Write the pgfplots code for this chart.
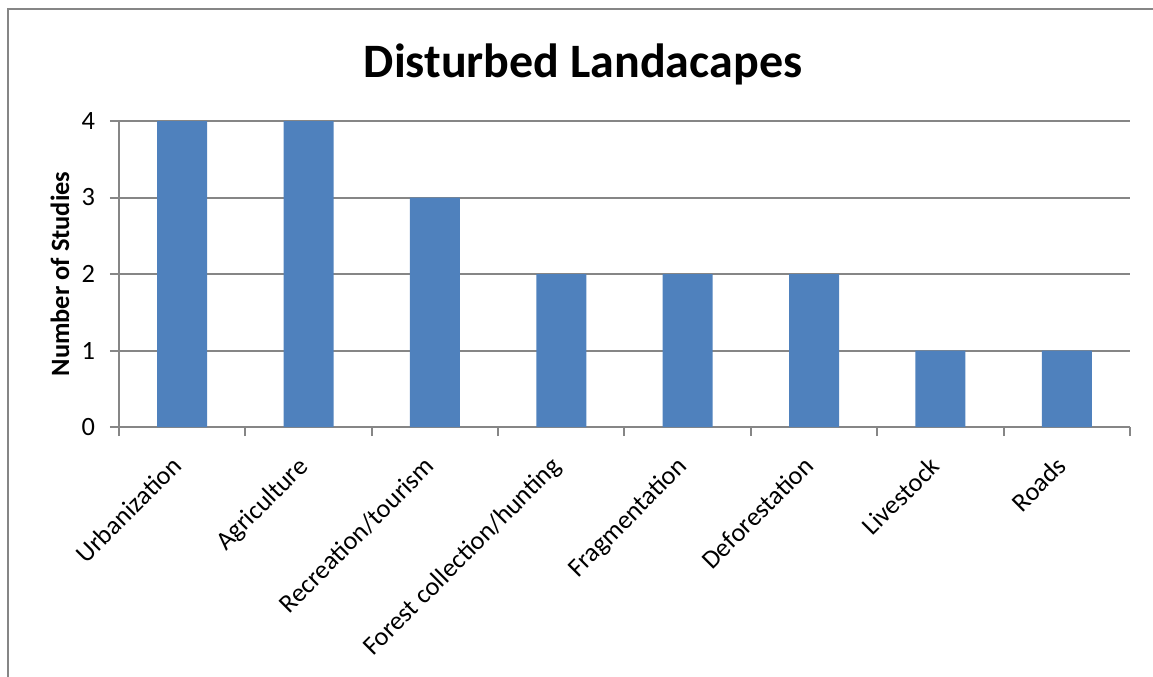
\documentclass[border=0pt]{standalone}
\usepackage{pgfplots}
\pgfplotsset{compat=1.18}
\usepackage{fontspec}
\setmainfont{Carlito}
\definecolor{barblue}{HTML}{4F81BD}
\definecolor{gridgray}{HTML}{868686}
\begin{document}
\begin{tikzpicture}[x=0.5pt,y=0.5pt]
\useasboundingbox (0,0) rectangle (1153,-676);
% chart frame (left and top edges)
\draw[gridgray, line width=1pt] (7.5,-680) -- (7.5,-9) -- (1160,-9);
\node[anchor=base, font=\fontsize{24}{28}\selectfont\bfseries] at (583,-77) {Disturbed Landacapes};
\node[rotate=90, font=\fontsize{13.2}{15}\selectfont\bfseries] at (60,-274) {Number of Studies};
\begin{axis}[
  at={(59.5pt,-213.5pt)}, anchor=south west,
  scale only axis, width=505.5pt, height=153pt,
  xmin=0, xmax=8, ymin=0, ymax=4,
  axis x line*=bottom, axis y line*=left,
  axis line style={-, draw=gridgray, line width=1pt},
  ytick={0,...,4}, ymajorgrids,
  grid style={draw=gridgray, line width=1pt},
  tick align=outside, major tick length=4.5pt,
  tick style={draw=gridgray, line width=1pt},
  xtick={0,...,8}, xticklabels={},
  extra x ticks={0.5,1.5,...,7.5},
  extra x tick labels={Urbanization,Agriculture,Recreation/tourism,Forest collection/hunting,Fragmentation,Deforestation,Livestock,Roads},
  extra x tick style={major tick length=0pt, grid=none,
    tick label style={rotate=45, anchor=north east, inner sep=1pt, xshift=-13pt, yshift=-4.5pt,
      font=\fontsize{13.1}{15}\selectfont}},
  /pgf/number format/assume math mode=true,
  tick label style={font=\fontsize{13.2}{15}\selectfont},
  yticklabel style={xshift=-4pt},
  clip=false,
]
\addplot[ybar, bar width=25pt, fill=barblue, draw=none] coordinates {
  (0.5,4) (1.5,4) (2.5,3) (3.5,2) (4.5,2) (5.5,2) (6.5,1) (7.5,1)
};
\end{axis}
\end{tikzpicture}
\end{document}
